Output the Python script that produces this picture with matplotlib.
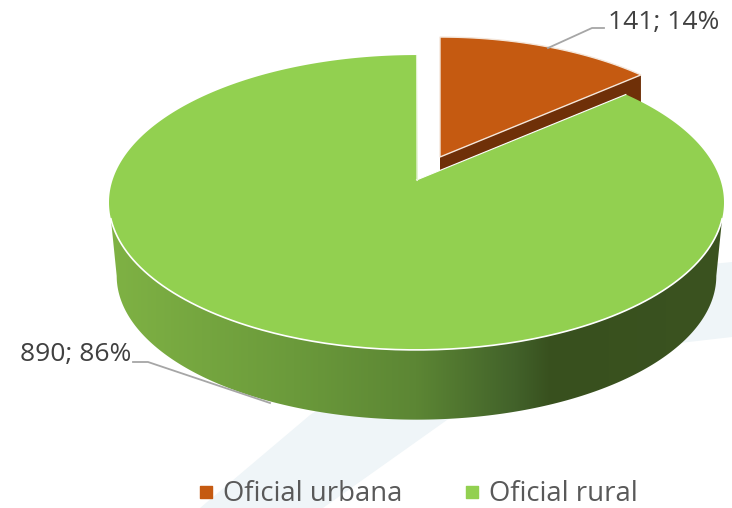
import matplotlib
matplotlib.use("Agg")
import matplotlib.pyplot as plt
import numpy as np
from matplotlib.colors import LinearSegmentedColormap
from matplotlib.patches import Polygon

categories = ["Oficial urbana", "Oficial rural"]
values = [141, 890]
percents = [14, 86]

plt.rcParams['font.family'] = ['Open Sans', 'DejaVu Sans']

# perspective settings for the tilted disc
cx, cy = 416.5, 180
R, S, k = 303.9, 144, 0.1525
depth = 74


def project(theta, r=1.0, scale=1.0, dx=0, dy=0):
    # theta in radians, clockwise from the back of the disc
    u = r * np.sin(theta)
    v = r * np.cos(theta)
    w = 1 + k * v
    return cx + dx + scale * R * u / w, cy + dy - scale * S * v / w


fig = plt.figure(figsize=(7.32, 5.08), dpi=100)
ax = fig.add_axes([0, 0, 1, 1])
ax.set_xlim(0, 732)
ax.set_ylim(508, 0)
ax.axis("off")

# pale swoosh behind the chart
sw_x = [200, 310, 450, 600, 732, 732, 680, 540, 447, 323]
sw_y = [508, 415, 320, 275, 262, 337, 343, 380, 420, 508]
ax.add_patch(Polygon(np.column_stack([sw_x, sw_y]), fc="#eff5f8", ec="none", zorder=0))

total = sum(values)
sweep = 2 * np.pi * values[0] / total

# side wall of the big slice, with its shading
edge = np.radians(105)
sil = np.arccos(-k)
t_top = np.linspace(edge, 2 * np.pi - edge, 200)
t_bot = np.linspace(sil, 2 * np.pi - sil, 200)
tx, ty = project(t_top)
bx, by = project(t_bot, scale=0.975, dy=depth)
wall = Polygon(np.column_stack([np.r_[tx, bx[::-1]], np.r_[ty, by[::-1]]]), fc="none", ec="none")
ax.add_patch(wall)
shade = LinearSegmentedColormap.from_list("shade", [(0, "#7fb244"), (0.3, "#6b9a3b"), (0.5, "#5c8634"),
                                                     (0.66, "#42622a"), (0.72, "#38501e"), (1, "#3b5320")])
im = ax.imshow(np.linspace(0, 1, 256).reshape(1, -1), cmap=shade, extent=(109, 724, 430, 150),
               aspect="auto", zorder=2)
im.set_clip_path(wall)
ax.set_xlim(0, 732)
ax.set_ylim(508, 0)

# exploded small slice
ex, ey, es = 23.5, -23, 0.96
t_small = np.linspace(0, sweep, 80)
ox, oy = project(t_small, scale=es, dx=ex, dy=ey)
ax0, ay0 = project(0.0, r=0.0, scale=es, dx=ex, dy=ey)
ax.add_patch(Polygon([[ax0, ay0], [ox[-1], oy[-1]], [ox[-1], oy[-1] + 70], [ax0, ay0 + 70]],
                     fc="#6f3008", ec="none", zorder=3))
ax.add_patch(Polygon(np.column_stack([np.r_[ax0, ox], np.r_[ay0, oy]]), fc="#c55a11", ec="#f4e6da", lw=1.0, zorder=5))

# big slice top
t_big = np.linspace(sweep, 2 * np.pi, 400)
gx, gy = project(t_big)
ax.add_patch(Polygon(np.column_stack([np.r_[cx, gx], np.r_[cy, gy]]), fc="#92d050", ec="none", zorder=4))
ax.plot(tx, ty, color="white", lw=1.2, zorder=5)
ax.plot([cx, gx[0]], [cy, gy[0]], color="white", lw=0.8, zorder=5)
ax.plot([cx, gx[-1]], [cy, gy[-1]], color="#e4f3d2", lw=0.8, zorder=5)

# data labels and leader lines
ax.plot([548, 592, 604], [48, 28, 28], color="#a6a6a6", lw=1.3, zorder=6)
ax.plot([133, 148, 270], [362, 362, 403], color="#a6a6a6", lw=1.3, zorder=6)
ax.text(608, 22, f"{values[0]}; {percents[0]}%", fontsize=19, color="#404040", va="center", ha="left")
ax.text(20, 354, f"{values[1]}; {percents[1]}%", fontsize=19, color="#404040", va="center", ha="left")

# legend
ax.scatter([206, 472], [492, 492], marker="s", s=75, color=["#c55a11", "#92d050"], zorder=6)
ax.text(223, 494, categories[0], fontsize=19.8, color="#595959", va="center", ha="left")
ax.text(489, 494, categories[1], fontsize=19.8, color="#595959", va="center", ha="left")

fig.savefig("out.png", dpi=100)
